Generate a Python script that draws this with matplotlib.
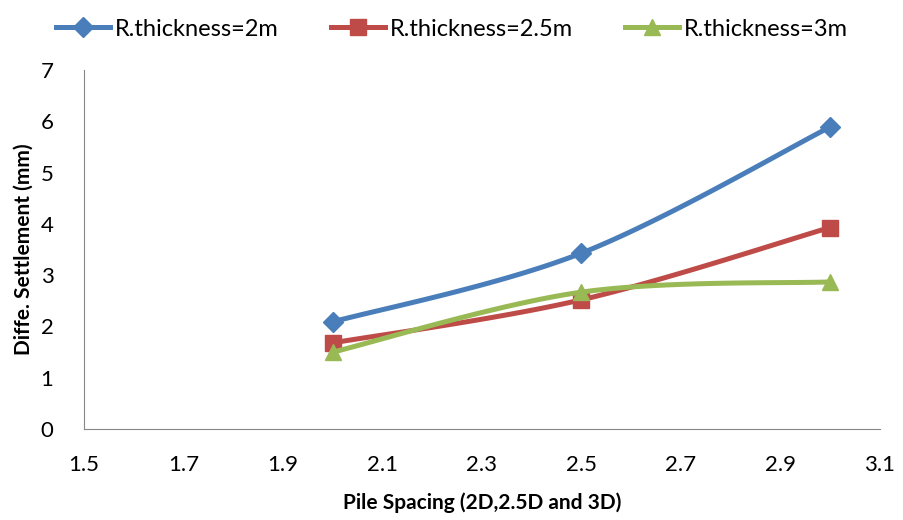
import numpy as np
import matplotlib.pyplot as plt

spacing = [2.0, 2.5, 3.0]
thick_2 = [2.09, 3.43, 5.89]
thick_25 = [1.68, 2.52, 3.93]
thick_3 = [1.50, 2.67, 2.87]


def smooth(x, y, n=40):
    # Excel-like smoothed line (Catmull-Rom through bezier control points)
    x = np.asarray(x, float)
    y = np.asarray(y, float)
    px = np.concatenate([[x[0]], x, [x[-1]]])
    py = np.concatenate([[y[0]], y, [y[-1]]])
    xs, ys = [], []
    t = np.linspace(0, 1, n)
    for i in range(1, len(px) - 2):
        p0 = np.array([px[i], py[i]])
        p3 = np.array([px[i + 1], py[i + 1]])
        p1 = p0 + (np.array([px[i + 1], py[i + 1]]) - np.array([px[i - 1], py[i - 1]])) / 6
        p2 = p3 - (np.array([px[i + 2], py[i + 2]]) - np.array([px[i], py[i]])) / 6
        b = ((1 - t) ** 3)[:, None] * p0 + (3 * (1 - t) ** 2 * t)[:, None] * p1 \
            + (3 * (1 - t) * t ** 2)[:, None] * p2 + (t ** 3)[:, None] * p3
        xs.extend(b[:, 0])
        ys.extend(b[:, 1])
    return xs, ys


plt.rcParams['font.family'] = ['Lato', 'DejaVu Sans']

fig = plt.figure(figsize=(9.04, 5.2), dpi=100)
ax = fig.add_axes([0.093, 0.175, 0.88, 0.69])

series = [
    (thick_2, '#4A7EBB', 'D', 10, 'R.thickness=2m'),
    (thick_25, '#BE4B48', 's', 11, 'R.thickness=2.5m'),
    (thick_3, '#98B954', '^', 12, 'R.thickness=3m'),
]
handles = []
for vals, col, mk, ms, lab in series:
    sx, sy = smooth(spacing, vals)
    ax.plot(sx, sy, color=col, lw=3.6, solid_capstyle='round')
    ax.plot(spacing, vals, ls='none', marker=mk, ms=ms, color=col)
    h, = ax.plot([], [], color=col, lw=3.6, marker=mk, ms=ms, label=lab)
    handles.append(h)

ax.set_xlim(1.5, 3.1)
ax.set_ylim(0, 7)
ax.set_xticks(np.arange(1.5, 3.11, 0.2))
ax.set_xticklabels(['1.5', '1.7', '1.9', '2.1', '2.3', '2.5', '2.7', '2.9', '3.1'])
ax.set_yticks(range(0, 8))
ax.tick_params(length=0, labelsize=16)
ax.tick_params(axis='x', pad=19)
ax.tick_params(axis='y', pad=22)
for s in ['top', 'right']:
    ax.spines[s].set_visible(False)
for s in ['left', 'bottom']:
    ax.spines[s].set_color('#868686')
ax.set_xlabel('Pile Spacing (2D,2.5D and 3D)', fontsize=15, fontweight='bold', labelpad=12)
ax.set_ylabel('Diffe. Settlement (mm)', fontsize=15, fontweight='bold', labelpad=5)

fig.legend(handles=handles, loc='upper center', bbox_to_anchor=(0.5, 1.005), ncol=3,
           frameon=False, fontsize=17, handlelength=2.3, columnspacing=2.2,
           handletextpad=0.2)

fig.savefig('out.png', dpi=100)
